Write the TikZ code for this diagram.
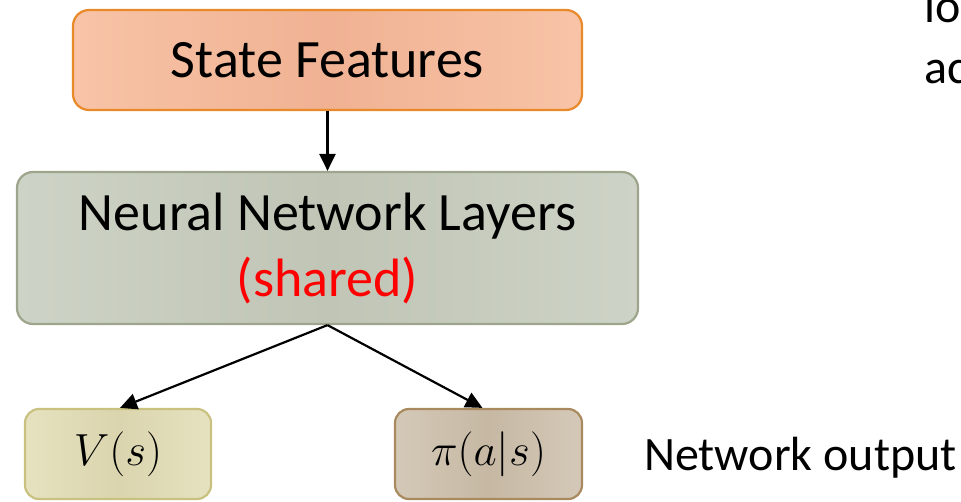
\RequirePackage{fix-cm}
\documentclass[tikz,border=0pt]{standalone}
\usepackage{fontspec}
\setmainfont{Carlito}
\usetikzlibrary{arrows.meta,shadings}
\definecolor{sfEdge}{HTML}{F8C3A7}
\definecolor{sfMid}{HTML}{F0B293}
\definecolor{sfLine}{HTML}{E8892A}
\definecolor{nnEdge}{HTML}{CDD3C6}
\definecolor{nnMid}{HTML}{C0C5B6}
\definecolor{nnLine}{HTML}{9DA58C}
\definecolor{vEdge}{HTML}{E6E2C0}
\definecolor{vMid}{HTML}{DAD5AE}
\definecolor{vLine}{HTML}{C9C180}
\definecolor{pEdge}{HTML}{D4C9B8}
\definecolor{pMid}{HTML}{C6B8A3}
\definecolor{pLine}{HTML}{A88A5E}
\tikzset{
  box/.style={rectangle, rounded corners=16pt, line width=2.2pt, align=center,
    inner sep=0pt, font=\fontsize{54}{66}\selectfont},
  smallbox/.style={box, rounded corners=14pt, minimum height=90pt,
    font=\fontsize{45}{54}\selectfont},
  link/.style={line width=2.2pt, -{Triangle[length=17pt,width=16pt]}},
  bigtext/.style={font=\fontsize{48}{58}\selectfont, inner sep=0pt},
}
\begin{document}
\begin{tikzpicture}[x=1pt,y=-1pt]
  \useasboundingbox (0,0) rectangle (961,501);
  % boxes
  \node[box, draw=sfLine, left color=sfEdge, right color=sfEdge, middle color=sfMid,
        minimum width=509pt, minimum height=100pt] (state) at (327.5,60) {State Features};
  \node[box, draw=nnLine, left color=nnEdge, right color=nnEdge, middle color=nnMid,
        minimum width=621pt, minimum height=152pt] (nn) at (327.5,248)
        {Neural Network Layers\\[0pt]\textcolor{red}{(shared)}};
  \node[smallbox, draw=vLine, left color=vEdge, right color=vEdge, middle color=vMid,
        minimum width=186pt] (v) at (118,454) {$V(s)$};
  \node[smallbox, draw=pLine, left color=pEdge, right color=pEdge, middle color=pMid,
        minimum width=187pt] (pi) at (488.5,454) {$\pi(a|s)$};
  % free labels
  \node[bigtext, anchor=base west] (out) at (644,470) {Network output};
  \node[bigtext, anchor=base west] (lo) at (924,22) {lo};
  \node[bigtext, anchor=base west] (ac) at (924,83) {ac};
  % connectors
  \draw[link] (state.south) -- (nn.north);
  \draw[link] (nn.south) -- ([xshift=2pt]v.north);
  \draw[link] (nn.south) -- ([xshift=-6pt]pi.north);
\end{tikzpicture}
\end{document}
